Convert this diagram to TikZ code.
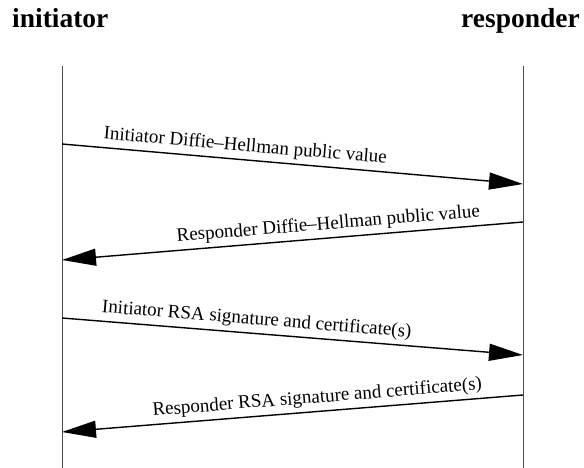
\documentclass[tikz,border=0pt]{standalone}
\usepackage{fontspec}
\setmainfont{Liberation Serif}
\usetikzlibrary{arrows.meta}
\begin{document}
\begin{tikzpicture}[x=1pt,y=-1pt,
  lifeline/.style={line width=1pt,black!70},
  msg/.style={line width=1.4pt,-{Triangle[length=34pt,width=17pt]}},
  msglabel/.style={sloped,above,font=\fontsize{19}{22}\selectfont,inner sep=4pt},
  header/.style={font=\fontsize{27.5}{30}\selectfont\bfseries,inner sep=0pt}]
\useasboundingbox (0,0) rectangle (584,468);
\node[header,anchor=base west] (hi) at (12,28) {initiator};
\node[header,anchor=base east] (hr) at (580,28) {responder};
\coordinate (lt) at (62,66);
\coordinate (lb) at (62,468);
\coordinate (rt) at (523,66);
\coordinate (rb) at (523,468);
\draw[lifeline] (lt) -- (lb);
\draw[lifeline] (rt) -- (rb);
\coordinate (a1s) at (62,144); \coordinate (a1e) at (523,184);
\coordinate (a2s) at (523,222); \coordinate (a2e) at (62,260);
\coordinate (a3s) at (62,318); \coordinate (a3e) at (523,355);
\coordinate (a4s) at (523,395); \coordinate (a4e) at (62,432);
\draw[msg] (a1s) -- node[msglabel,pos=0.395] (l1) {Initiator Diffie--Hellman public value} (a1e);
\draw[msg] (a2s) -- node[msglabel,pos=0.42,allow upside down=false] (l2) {Responder Diffie--Hellman public value} (a2e);
\draw[msg] (a3s) -- node[msglabel,pos=0.42] (l3) {Initiator RSA signature and certificate(s)} (a3e);
\draw[msg] (a4s) -- node[msglabel,pos=0.444] (l4) {Responder RSA signature and certificate(s)} (a4e);
\end{tikzpicture}
\end{document}
